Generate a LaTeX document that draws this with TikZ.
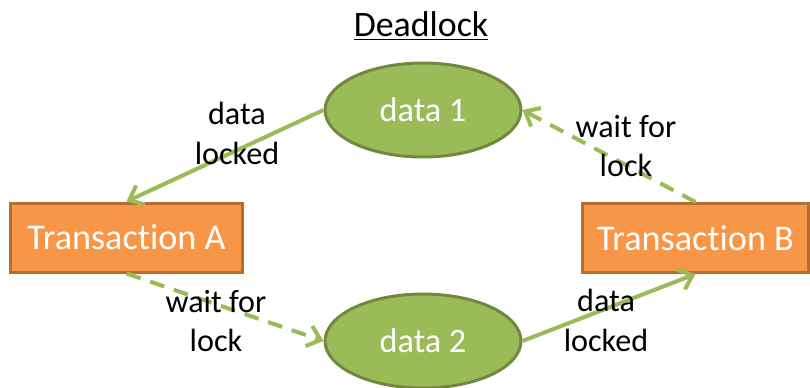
\documentclass[tikz,border=0pt]{standalone}
\usepackage{fontspec}
\setmainfont[Ligatures={NoCommon}]{Carlito}
\usetikzlibrary{shapes.geometric,arrows.meta}
\definecolor{txorange}{HTML}{F79646}
\definecolor{txedge}{HTML}{B66D31}
\definecolor{dgreen}{HTML}{9BBB59}
\definecolor{dedge}{HTML}{71893F}
\begin{document}
\begin{tikzpicture}[x=0.02cm, y=-0.02cm,
        trans/.style={draw=txedge, fill=txorange, line width=1.7pt, text=white,
          minimum height=1.38cm, inner sep=0pt, font=\fontsize{20.6}{24}\selectfont},
        item/.style={ellipse, draw=dedge, fill=dgreen, line width=1.7pt, text=white,
          minimum width=3.92cm, minimum height=1.88cm, inner sep=0pt,
          font=\fontsize{19.5}{23}\selectfont},
        lbl/.style={align=center, font=\fontsize{18.3}{22.7}\selectfont},
        link/.style={draw=dgreen, line width=2.3pt,
          -{Straight Barb[length=7pt,width=12pt,line width=2.3pt]}},
        wait/.style={link, dash pattern=on 8.5pt off 5.7pt}]
        \useasboundingbox (0,0) rectangle (810,387);
        \node[font=\fontsize{20.4}{24}\selectfont] (title) at (421,26) {\underline{Deadlock}};
        \node[trans, minimum width=4.66cm] (ta) at (126.5,237.5) {Transaction A};
        \node[trans, minimum width=4.52cm] (tb) at (695.5,238) {Transaction B};
        \node[item] (d1) at (423,110) {data 1};
        \node[item] (d2) at (423,341) {data 2};
        \draw[link] (d1.west) -- (ta.north);
        \draw[wait] (tb.north) -- (d1.east);
        \draw[wait] (ta.south) -- (d2.west);
        \draw[link] (d2.east) -- (tb.south);
        \node[lbl] (l1) at (237,133) {data\\locked};
        \node[lbl] (l2) at (626,146) {wait for\\lock};
        \node[lbl] (l3) at (216,321) {wait for\\lock};
        \node[lbl] (l4) at (606,320) {data\\locked};
      \end{tikzpicture}
\end{document}
